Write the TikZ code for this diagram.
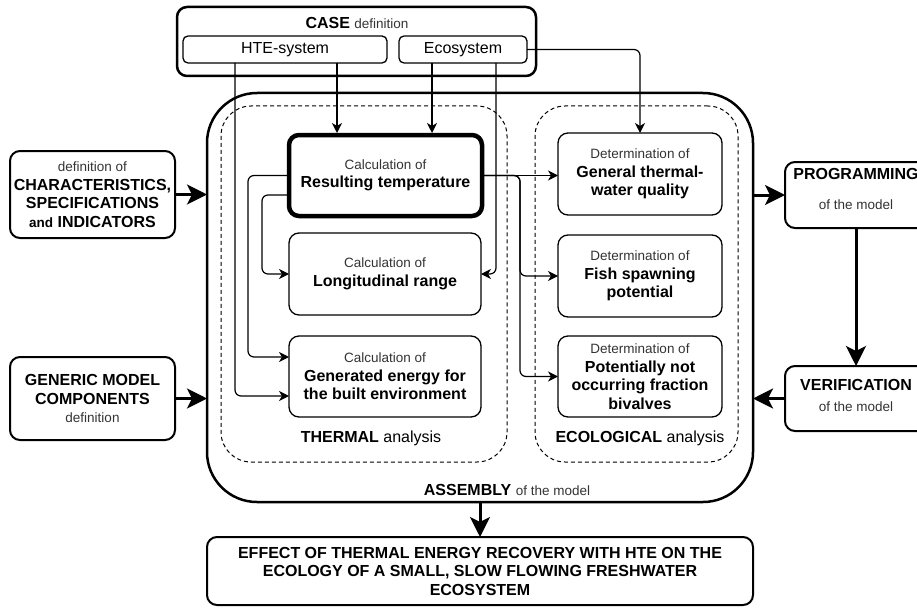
\documentclass[tikz,border=0pt]{standalone}
\usepackage{fontspec}
\setmainfont{Liberation Sans}
\usetikzlibrary{arrows.meta,calc}
\definecolor{tgray}{gray}{0.2}
\newcommand\smtxt[1]{{\fontsize{13.5}{18.5}\selectfont\mdseries\color{tgray}#1}}
\newcommand\smbold[1]{{\fontsize{13.5}{18.5}\selectfont\bfseries #1}}
\begin{document}
\begin{tikzpicture}[x=1pt,y=-1pt,
  every node/.style={inner sep=0pt, outer sep=0pt},
  bt/.style={font=\fontsize{16}{18.5}\selectfont\bfseries, align=center},
  sub/.style={draw, line width=1.3pt, rounded corners=10pt, bt},
  mainbox/.style={draw, line width=2pt, rounded corners=10pt, bt},
  casebox/.style={draw, line width=1.3pt, rounded corners=5pt, font=\fontsize{16}{18.5}\selectfont},
  conn/.style={line width=1.2pt, rounded corners=6pt, -{Stealth[length=10pt,width=10pt,inset=3pt]}},
  flow/.style={line width=3pt, -{Stealth[length=20pt,width=20pt,inset=5pt]}},
  dashbox/.style={draw, dash pattern=on 4pt off 3pt, line width=1pt, rounded corners=30pt},
  lbl/.style={font=\fontsize{16}{18.5}\selectfont},
]
\useasboundingbox (0,0) rectangle (917,607);

% CASE definition
\node[draw, line width=2.5pt, rounded corners=10pt, minimum width=359pt, minimum height=69pt] (case) at (356.5,41.5) {};
\node[lbl] (caselbl) at (357,23) {\textbf{CASE} \smtxt{definition}};
\node[casebox, minimum width=204pt, minimum height=27pt] (hte) at (285,49.5) {HTE-system};
\node[casebox, minimum width=128pt, minimum height=27pt] (eco) at (463,49.5) {Ecosystem};

% assembly
\node[draw, line width=2.5pt, rounded corners=50pt, minimum width=546pt, minimum height=409pt] (assembly) at (480,297.5) {};
\node[lbl] (asmlbl) at (507,490) {\textbf{ASSEMBLY} \smtxt{of the model}};

% analysis containers
\node[dashbox, minimum width=286pt, minimum height=356pt] (thermal) at (364,284) {};
\node[dashbox, minimum width=203pt, minimum height=356pt] (ecological) at (636.5,284) {};
\node[lbl] (thermlbl) at (371,438) {\textbf{THERMAL} analysis};
\node[lbl] (ecollbl) at (640,438) {\textbf{ECOLOGICAL} analysis};

% thermal boxes
\node[sub, line width=4.5pt, minimum width=193pt, minimum height=81pt] (restemp) at (385.5,175.5) {\smtxt{Calculation of}\\Resulting temperature};
\node[sub, minimum width=192pt, minimum height=82pt] (lon) at (385,274) {\smtxt{Calculation of}\\Longitudinal range};
\node[sub, minimum width=192pt, minimum height=81pt] (gen) at (385,376.5) {\smtxt{Calculation of}\\Generated energy for\\the built environment};

% ecological boxes
\node[sub, minimum width=164pt, minimum height=82pt] (qual) at (640,174) {\smtxt{Determination of}\\General thermal-\\water quality};
\node[sub, minimum width=164pt, minimum height=82pt] (fish) at (640,276) {\smtxt{Determination of}\\Fish spawning\\potential};
\node[sub, minimum width=164pt, minimum height=81pt] (pot) at (640,376.5) {\smtxt{Determination of}\\Potentially not\\occurring fraction\\bivalves};

% left boxes
\node[mainbox, minimum width=165pt, minimum height=87pt] (char) at (92.5,194.5) {\smtxt{definition of}\\CHARACTERISTICS,\\SPECIFICATIONS\\\smbold{and} INDICATORS};
\node[mainbox, minimum width=165pt, minimum height=83pt] (generic) at (92.5,398.5) {GENERIC MODEL\\COMPONENTS\\\smtxt{definition}};

% right boxes
\node[mainbox, minimum width=142pt, minimum height=66pt, text depth=12pt] (prog) at (856,195) {PROGRAMMING\\[11pt]\smtxt{of the model}};
\node[mainbox, minimum width=142pt, minimum height=65pt, text depth=6pt] (verif) at (856,398.5) {VERIFICATION\\[3pt]\smtxt{of the model}};

% result
\node[mainbox, minimum width=546pt, minimum height=68pt] (effect) at (480,571) {EFFECT OF THERMAL ENERGY RECOVERY WITH HTE ON THE\\ECOLOGY OF A SMALL, SLOW FLOWING FRESHWATER\\ECOSYSTEM};

% connector start points
\coordinate (h1) at ([xshift=-50pt]hte.south);
\coordinate (h2) at ([xshift=52pt]hte.south);
\coordinate (e1) at ([xshift=-31pt]eco.south);
\coordinate (e2) at ([xshift=33pt]eco.south);

% thin connectors
\draw[conn] (h1) |- ([yshift=-19.5pt]gen.west);
\draw[conn, shorten >=2pt] (h2) -- (h2 |- restemp.north);
\draw[conn, shorten >=2pt] (e1) -- (e1 |- restemp.north);
\draw[conn] (e2) |- (lon.east);
\draw[conn] (eco.east) -| (qual.north);
\draw[conn] ([xshift=-2pt]restemp.west) -- ++(-39,0) |- ([yshift=19.5pt]gen.west);
\draw[conn] ([xshift=-2pt,yshift=-19.5pt]restemp.west) -- ++(-25,0) |- (lon.west);
\draw[conn] ([xshift=2pt]restemp.east) -- (restemp.east -| qual.west);
\draw[conn] ([xshift=2pt]restemp.east) -- ++(36,0) |- (fish.west);
\draw[conn] ([xshift=2pt]restemp.east) -- ++(36,0) |- (pot.west);

% thick flow arrows
\draw[flow] (char.east) -- (char.east -| assembly.west);
\draw[flow] (generic.east) -- (generic.east -| assembly.west);
\draw[flow] (assembly.east |- prog.west) -- (prog.west);
\draw[flow] (prog.south) -- (verif.north);
\draw[flow] (verif.west) -- (verif.west -| assembly.east);
\draw[flow] (assembly.south) -- (effect.north);
\end{tikzpicture}
\end{document}
